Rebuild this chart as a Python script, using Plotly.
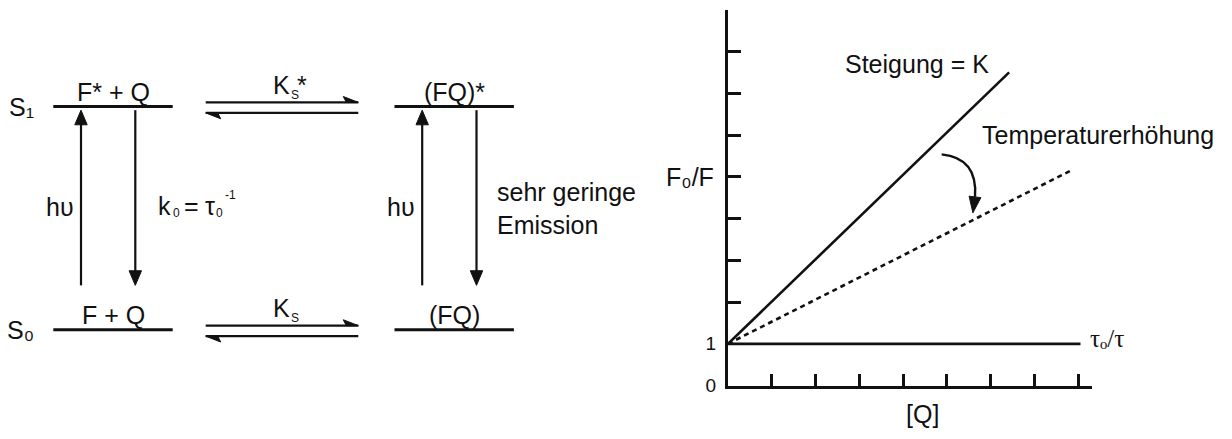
import plotly.graph_objects as go

# ------------------------------------------------------------------
# DATA
# ------------------------------------------------------------------
# Left: energy-level scheme (energies in units S0 = 0, S1 = 1; column 0 = F+Q, column 1 = complex FQ)
level_energy = [0, 1]
level_names = ["S\u2080", "S\u2081"]
column_pos = [0, 1]
free_labels = ["F + Q", "F* + Q"]
complex_labels = ["(FQ)", "(FQ)*"]
eq_symbol = ["K", "K"]
eq_sub = ["S", "S"]
eq_star = ["", "*"]
excitation_label = "h\u03c5"
decay_label_parts = ["k", "0", "=", "\u03c4", "0", "-1"]   # k0 = tau0^-1
decay_label_complex = "sehr geringe<br>Emission"

# Right: Stern-Volmer plot
q_steep = [0, 6.42]
f0f_steep = [1, 7.50]
q_heat = [0, 7.85]
f0f_heat = [1, 5.16]
q_tau = [0, 8.05]
tau_ratio = [1, 1]
y_label_vals = [0, 1]
y_label_text = ["0", "1"]
y_minor_vals = [2, 3, 4, 5, 6, 7, 8]
x_tickvals = [1, 2, 3, 4, 5, 6, 7, 8]
label_steep = "Steigung = K"
label_heat = "Temperaturerh\u00f6hung"
label_tau = "\u03c4\u2092/\u03c4"
label_y = "F\u2080/F"
label_x = "[Q]"

# ------------------------------------------------------------------
# LAYOUT / STYLE
# ------------------------------------------------------------------
W, H = 1232, 439
INK = "#111111"
FONT = "Liberation Sans, Arial, sans-serif"
FS = 25

# left scheme placement (pixels)
COL0_PX, COL1_PX = 113.0, 454.2
S0_PX, S1_PX = 338.3, 109.3
LEFT_W = 616
ux = (COL1_PX - COL0_PX)          # px per column unit
uy = (S0_PX - S1_PX)              # px per energy unit
x2_range = [-COL0_PX / ux, (LEFT_W - COL0_PX) / ux]
y2_range = [-(H - S0_PX) / uy, S0_PX / uy]

LEVEL_HALF = 59.7 / ux
UP_OFF = -32.0 / ux
DN_OFF = 22.3 / ux
ARROW_LOW = (S0_PX - 292.7) / uy
ARROW_HIGH = (S0_PX - 113.0) / uy
HEAD_LEN = 15.0 / uy
HEAD_HALF = 6.2 / ux
EQ_X0 = (205.7 - COL0_PX) / ux
EQ_X1 = (358.3 - COL0_PX) / ux
EQ_MID = 0.5
EQ_UP = 4.3 / uy
EQ_DN = 6.5 / uy
BARB_L = 15.0 / ux
BARB_IN = 12.0 / ux
BARB_H = 6.0 / uy
MID_LABEL_Y = (S0_PX - 210.0) / uy
# pieces of the "k0 = tau0^-1" label: (x offset px from arrow, y shift px, font size)
DECAY_PIECE_STYLE = [(23.0, -1.3, 25), (37.2, -8.3, 12), (48.5, -1.3, 25),
                     (69.2, -1.3, 25), (80.8, -8.3, 12), (89.5, 9.5, 12)]

# right plot placement (pixels)
RX0, RX1 = 728.0, 1091.7
RY0, RY1 = 395.5, 10.0
x_dom = [RX0 / W, RX1 / W]
y_dom = [1 - RY0 / H, 1 - RY1 / H]
x_range = [0, (RX1 - RX0) / ((1078.3 - RX0) / 8)]
y_range = [0, 9]

fig = go.Figure()
shapes = []

# --- energy levels ---
lx, ly = [], []
for e in level_energy:
    for c in column_pos:
        lx += [c - LEVEL_HALF, c + LEVEL_HALF, None]
        ly += [e, e, None]
fig.add_trace(go.Scatter(x=lx, y=ly, mode="lines", line=dict(color=INK, width=3),
                         xaxis="x2", yaxis="y2", hoverinfo="skip", showlegend=False))

# --- vertical transition arrows (absorption up, decay down) ---
vx, vy = [], []
for c in column_pos:
    xu = c + UP_OFF
    xd = c + DN_OFF
    vx += [xu, xu, None, xd, xd, None]
    vy += [ARROW_LOW, ARROW_HIGH - HEAD_LEN * 0.6, None, ARROW_HIGH, ARROW_LOW + HEAD_LEN * 0.6, None]
    shapes.append(dict(type="path", xref="x2", yref="y2",
                       path=f"M {xu},{ARROW_HIGH} L {xu - HEAD_HALF},{ARROW_HIGH - HEAD_LEN} "
                            f"L {xu + HEAD_HALF},{ARROW_HIGH - HEAD_LEN} Z",
                       fillcolor=INK, line=dict(color=INK, width=1)))
    shapes.append(dict(type="path", xref="x2", yref="y2",
                       path=f"M {xd},{ARROW_LOW} L {xd - HEAD_HALF},{ARROW_LOW + HEAD_LEN} "
                            f"L {xd + HEAD_HALF},{ARROW_LOW + HEAD_LEN} Z",
                       fillcolor=INK, line=dict(color=INK, width=1)))
fig.add_trace(go.Scatter(x=vx, y=vy, mode="lines", line=dict(color=INK, width=2.2),
                         xaxis="x2", yaxis="y2", hoverinfo="skip", showlegend=False))

# --- equilibrium harpoons ---
hx, hy = [], []
for e in level_energy:
    yf = e + EQ_UP
    yr = e - EQ_DN
    hx += [EQ_X0, EQ_X1, None, EQ_X0, EQ_X1, None]
    hy += [yf, yf, None, yr, yr, None]
    shapes.append(dict(type="path", xref="x2", yref="y2",
                       path=f"M {EQ_X1},{yf} L {EQ_X1 - BARB_L},{yf + BARB_H} L {EQ_X1 - BARB_IN},{yf} Z",
                       fillcolor=INK, line=dict(color=INK, width=1)))
    shapes.append(dict(type="path", xref="x2", yref="y2",
                       path=f"M {EQ_X0},{yr} L {EQ_X0 + BARB_L},{yr - BARB_H} L {EQ_X0 + BARB_IN},{yr} Z",
                       fillcolor=INK, line=dict(color=INK, width=1)))
fig.add_trace(go.Scatter(x=hx, y=hy, mode="lines", line=dict(color=INK, width=2.3),
                         xaxis="x2", yaxis="y2", hoverinfo="skip", showlegend=False))

# --- right plot lines ---
fig.add_trace(go.Scatter(x=q_steep, y=f0f_steep, mode="lines", line=dict(color=INK, width=2.6),
                         hoverinfo="skip", showlegend=False))
fig.add_trace(go.Scatter(x=q_heat, y=f0f_heat, mode="lines",
                         line=dict(color=INK, width=2.6, dash="5px,4px"),
                         hoverinfo="skip", showlegend=False))
fig.add_trace(go.Scatter(x=q_tau, y=tau_ratio, mode="lines", line=dict(color=INK, width=2.6),
                         hoverinfo="skip", showlegend=False))

# curved arrow "Temperaturerhoehung"
arc_start = (4.880, 5.538)
arc_ctrl = (5.709, 5.450)
arc_end = (5.641, 4.518)
head_tip = (5.593, 4.137)
head_a = (5.775, 4.500)
head_b = (5.506, 4.537)
shapes.append(dict(type="path", xref="x", yref="y",
                   path=f"M {arc_start[0]},{arc_start[1]} Q {arc_ctrl[0]},{arc_ctrl[1]} {arc_end[0]},{arc_end[1]}",
                   line=dict(color=INK, width=2.4)))
shapes.append(dict(type="path", xref="x", yref="y",
                   path=f"M {head_tip[0]},{head_tip[1]} L {head_a[0]},{head_a[1]} L {head_b[0]},{head_b[1]} Z",
                   fillcolor=INK, line=dict(color=INK, width=1)))

annotations = []
txt = dict(family=FONT, size=FS, color=INK)
small = dict(family=FONT, size=12, color=INK)

for c in column_pos:
    annotations.append(dict(xref="x2", yref="y2", x=c + UP_OFF, y=MID_LABEL_Y,
                            text=excitation_label, showarrow=False, xanchor="right",
                            yanchor="middle", xshift=-5, yshift=-2, font=txt))

# k0 = tau0^-1 (composed so the sub/superscripts stay small)
for part, (dx, dy, fs) in zip(decay_label_parts, DECAY_PIECE_STYLE):
    annotations.append(dict(xref="x2", yref="y2", x=column_pos[0] + DN_OFF, y=MID_LABEL_Y,
                            text=part, showarrow=False, xanchor="left", yanchor="middle",
                            xshift=dx, yshift=dy, borderpad=0, borderwidth=0,
                            font=dict(family=FONT, size=fs, color=INK)))

annotations.append(dict(xref="x2", yref="y2", x=column_pos[1] + DN_OFF, y=MID_LABEL_Y,
                        text=decay_label_complex, showarrow=False, xanchor="left",
                        yanchor="middle", xshift=18, yshift=-4, align="left", font=txt))

# level names and state labels
for e, nm, fl, cl, ks, kb, kst in zip(level_energy, level_names, free_labels, complex_labels,
                                      eq_symbol, eq_sub, eq_star):
    annotations.append(dict(xref="x2", yref="y2", x=column_pos[0] - LEVEL_HALF, y=e,
                            text=nm, showarrow=False, xanchor="right", yanchor="middle",
                            xshift=-17, yshift=0, font=txt))
    annotations.append(dict(xref="x2", yref="y2", x=column_pos[0], y=e, text=fl,
                            showarrow=False, xanchor="center", yanchor="middle",
                            yshift=15, font=txt))
    annotations.append(dict(xref="x2", yref="y2", x=column_pos[1], y=e, text=cl,
                            showarrow=False, xanchor="center", yanchor="middle",
                            yshift=15, font=txt))
    # equilibrium constant: K with small subscript S (and star for excited state)
    annotations.append(dict(xref="x2", yref="y2", x=EQ_MID, y=e, text=ks,
                            showarrow=False, xanchor="right", yanchor="middle",
                            xshift=8, yshift=22, font=txt))
    annotations.append(dict(xref="x2", yref="y2", x=EQ_MID, y=e, text=kb,
                            showarrow=False, xanchor="left", yanchor="middle",
                            xshift=5, yshift=12, font=small))
    if kst:
        annotations.append(dict(xref="x2", yref="y2", x=EQ_MID, y=e, text=kst,
                                showarrow=False, xanchor="left", yanchor="middle",
                                xshift=11, yshift=22, font=txt))

# right plot labels
annotations.append(dict(xref="x", yref="y", x=2.62, y=7.69, text=label_steep,
                        showarrow=False, xanchor="left", yanchor="middle", font=txt))
annotations.append(dict(xref="x", yref="y", x=5.75, y=6.0, text=label_heat,
                        showarrow=False, xanchor="left", yanchor="middle", font=txt))
annotations.append(dict(xref="x", yref="y", x=q_tau[-1], y=tau_ratio[-1], text=label_tau,
                        showarrow=False, xanchor="left", yanchor="middle", xshift=8, yshift=5,
                        font=dict(family="Liberation Serif, Times New Roman, serif", size=FS, color=INK)))
annotations.append(dict(xref="x", yref="y", x=0, y=4.99, text=label_y,
                        showarrow=False, xanchor="right", yanchor="middle", xshift=-12, font=txt))
annotations.append(dict(xref="x", yref="paper", x=4.44, y=1 - 424.2 / H, text=label_x,
                        showarrow=False, xanchor="center", yanchor="middle", font=txt))

fig.update_layout(
    width=W, height=H, margin=dict(l=0, r=0, t=0, b=0),
    paper_bgcolor="white", plot_bgcolor="white",
    showlegend=False,
    font=dict(family=FONT, size=FS, color=INK),
    xaxis=dict(domain=x_dom, range=x_range, anchor="y", showgrid=False, zeroline=False,
               showline=True, linecolor=INK, linewidth=3,
               ticks="inside", ticklen=12, tickwidth=2.5, tickcolor=INK,
               tickvals=x_tickvals, showticklabels=False, fixedrange=True),
    yaxis=dict(domain=y_dom, range=y_range, anchor="x", showgrid=False, zeroline=False,
               showline=True, linecolor=INK, linewidth=3,
               ticks="", tickvals=y_label_vals, ticktext=y_label_text, ticklabelstandoff=5,
               tickfont=dict(family=FONT, size=19, color=INK),
               minor=dict(tickvals=y_minor_vals, ticks="inside", ticklen=13, tickwidth=2.5,
                          tickcolor=INK, showgrid=False),
               fixedrange=True),
    xaxis2=dict(domain=[0, LEFT_W / W], range=x2_range, anchor="y2", visible=False, fixedrange=True),
    yaxis2=dict(domain=[0, 1], range=y2_range, anchor="x2", visible=False, fixedrange=True),
    shapes=shapes,
    annotations=annotations,
)

fig.write_html("out.html")
